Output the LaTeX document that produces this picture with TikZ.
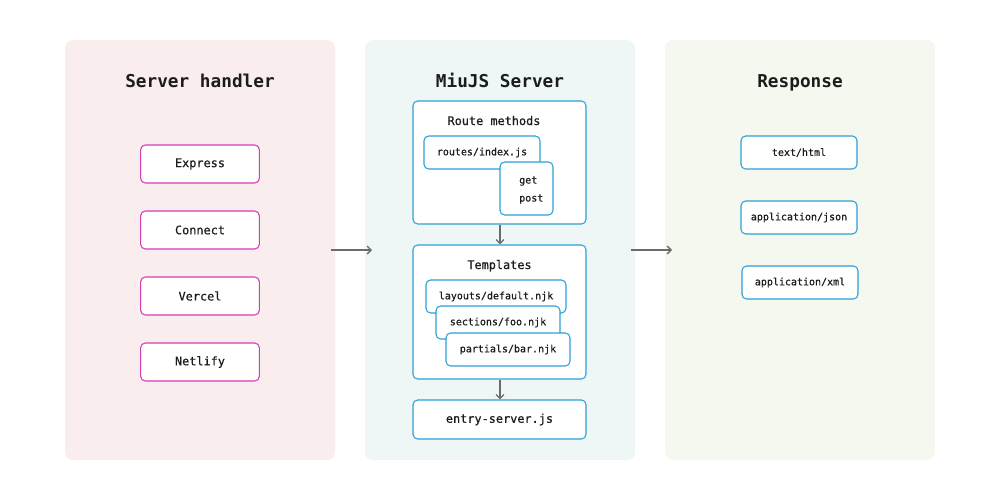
\documentclass[tikz,border=0pt]{standalone}
\usepackage{fontspec}
\setmonofont{DejaVu Sans Mono}
\usetikzlibrary{arrows.meta}
\definecolor{pinkbg}{HTML}{F9EDED}
\definecolor{tealbg}{HTML}{EEF7F6}
\definecolor{greenbg}{HTML}{F4F8EE}
\definecolor{magenta1}{HTML}{D43BB5}
\definecolor{blue1}{HTML}{2C9FD8}
\definecolor{ink}{HTML}{1C1C1C}
\definecolor{arrowgrey}{HTML}{6B6B6B}
\newfontfamily\semimono[FakeBold=0.6]{DejaVu Sans Mono}
\tikzset{
  panel/.style={fill=#1, draw=none, rounded corners=6pt},
  title/.style={font=\ttfamily\bfseries\fontsize{13.3}{15}\selectfont, text=ink, anchor=base},
  magbox/.style={draw=magenta1, line width=0.8pt, fill=white, rounded corners=3.5pt, minimum width=89pt, minimum height=28.5pt, font=\semimono\fontsize{8.9}{10}\selectfont, text=ink, inner sep=0pt},
  bluebox/.style={draw=blue1, line width=0.8pt, fill=white, rounded corners=3.5pt, inner sep=0pt, text=ink},
  small/.style={font=\semimono\fontsize{7.5}{9}\selectfont, text=ink},
  mid/.style={font=\semimono\fontsize{8.9}{10}\selectfont, text=ink},
  flow/.style={draw=arrowgrey, line width=1pt, -{Straight Barb[length=3pt,width=6pt]}},
}
\begin{document}
\begin{tikzpicture}[x=0.75pt,y=-0.75pt]
\useasboundingbox (0,0) rectangle (1000,500);
% panels
\node[panel=pinkbg, minimum width=202.5pt, minimum height=315pt] (p1) at (200,250) {};
\node[panel=tealbg, minimum width=202.5pt, minimum height=315pt] (p2) at (500,250) {};
\node[panel=greenbg, minimum width=202.5pt, minimum height=315pt] (p3) at (800,250) {};
\node[title] (t1) at (200,87.5) {Server handler};
\node[title] (t2) at (500,87.5) {MiuJS Server};
\node[title] (t3) at (800,87.5) {Response};
% left
\node[magbox] (express) at (200,164) {Express};
\node[magbox] (connect) at (200,230) {Connect};
\node[magbox] (vercel) at (200,296) {Vercel};
\node[magbox] (netlify) at (200,362) {Netlify};
% middle: route methods
\node[bluebox, minimum width=129.75pt, minimum height=92.25pt] (route) at (499.5,162.5) {};
\node[mid, anchor=base] (routet) at (494,125) {Route methods};
\node[bluebox, small, minimum width=87pt, minimum height=24.75pt] (idx) at (482,152.5) {routes/index.js};
\node[bluebox, minimum width=39.75pt, minimum height=39.75pt] (gp) at (526.5,188.5) {};
\node[small, anchor=base west] (get) at (514.5,183.5) {get};
\node[small, anchor=base west] (post) at (514.5,201.5) {post};
% templates
\node[bluebox, minimum width=129.75pt, minimum height=100.5pt] (tpl) at (499.5,312) {};
\node[mid, anchor=base] (tplt) at (499.5,269) {Templates};
\node[bluebox, small, minimum width=105pt, minimum height=24.75pt] (lay) at (496,296.5) {layouts/default.njk};
\node[bluebox, small, minimum width=93pt, minimum height=24.75pt] (sec) at (498,322.5) {sections/foo.njk};
\node[bluebox, small, minimum width=93pt, minimum height=24.75pt] (par) at (508,349.5) {partials/bar.njk};
% entry
\node[bluebox, mid, minimum width=129.75pt, minimum height=29.25pt] (entry) at (499.5,419.5) {entry-server.js};
% right
\node[bluebox, small, minimum width=87pt, minimum height=24.75pt] (html) at (799,152.5) {text/html};
\node[bluebox, small, minimum width=87pt, minimum height=24.75pt] (json) at (799,217.5) {application/json};
\node[bluebox, small, minimum width=87pt, minimum height=24.75pt] (xml) at (800,282.5) {application/xml};
% arrows
\coordinate (a1s) at (331,250);
\coordinate (a1e) at (372,250);
\coordinate (a2s) at (631,250);
\coordinate (a2e) at (672,250);
\draw[flow] (a1s) -- (a1e);
\draw[flow] (a2s) -- (a2e);
\draw[flow] (route.south -| 500,0) -- (tpl.north -| 500,0);
\draw[flow] (tpl.south -| 500,0) -- (entry.north -| 500,0);
\end{tikzpicture}
\end{document}
